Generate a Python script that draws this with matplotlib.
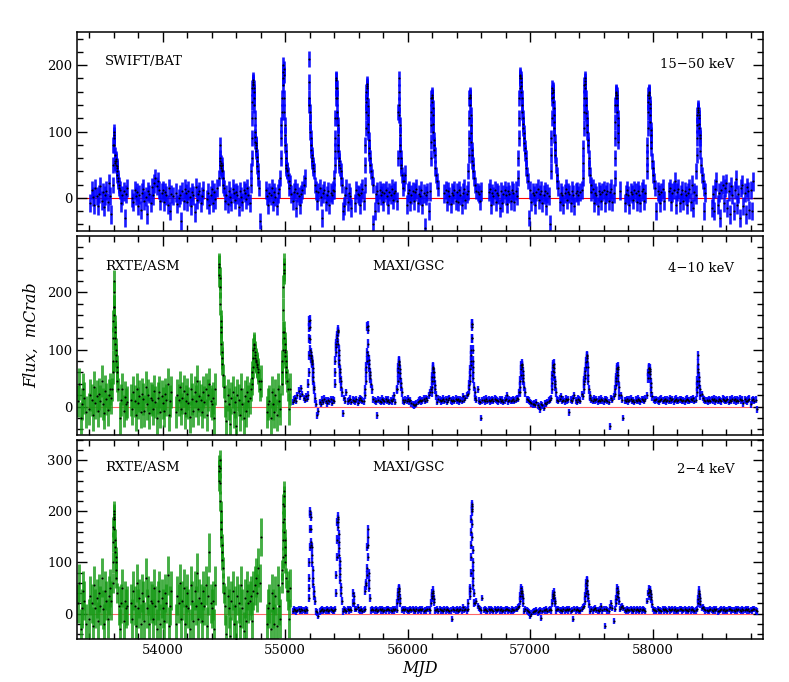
import numpy as np
import matplotlib
matplotlib.use("Agg")
import matplotlib.pyplot as plt
from matplotlib.ticker import MultipleLocator

# ---------------- data ----------------
STEP = 10
BAT_START, ASM_START, MAXI_START = 53400, 53310, 55060

bat_base = [
 5,-8,12,2,-10,15,3,-12,6,18,-4,9,-14,4,11,-6,22,3,-25,10,
 14,8,-5,20,-3,12,-8,4,10,-30,6,15,-2,-9,7,0,-6,12,3,9,
 -12,5,-18,8,14,-4,2,-25,10,6,-8,16,4,22,30,18,25,12,-5,8,
 12,-6,9,4,-10,15,-20,6,3,12,-4,8,-9,0,5,-35,10,-5,14,7,
 -6,11,2,-12,9,4,-22,16,-3,6,10,-8,3,12,-5,18,-2,8,-10,4,
 13,-7,9,-2,15,-11,6,3,-40,8,12,-4,5,-9,11,2,-6,14,7,-3,
 9,5,-14,10,2,-6,12,8,-2,15,4,-8,6,11,3,9,-5,7,10,2,
 -30,-15,5,-8,12,3,-10,8,4,15,-6,9,2,-12,7,14,10,-4,6,3,
 5,10,8,12,20,6,-5,9,14,-15,8,3,-10,6,12,20,30,-5,4,9,
 8,14,6,-8,3,11,-4,9,15,2,-30,7,12,-6,4,10,-10,8,5,12,
 6,-5,9,12,-8,6,10,-20,-12,4,15,-6,8,3,-15,10,5,-8,12,6,
 4,-10,8,14,-4,9,2,11,-6,7,12,5,-40,-20,6,10,-8,12,4,9,
 -6,8,12,3,-10,9,5,14,-3,8,11,-5,7,10,-12,9,4,25,35,-10,
 8,12,-6,5,10,-4,9,14,-8,6,3,12,-10,7,-45,4,9,-20,10,20,
 6,12,-8,9,4,14,-5,8,11,-3,7,12,-6,10,3,-9,8,5,12,-4,
 9,-6,12,4,-10,8,14,-3,6,11,-8,5,10,-12,7,3,-50,9,6,-5,
 10,4,-8,12,6,-5,9,14,-10,7,3,12,-6,8,5,-15,10,-8,6,12,
 4,-9,10,6,-4,12,8,-6,11,3,-8,9,14,-5,7,10,-50,-25,5,9,
 12,-6,8,4,-10,9,14,-3,6,11,-8,5,10,-12,7,3,-40,20,8,6,
 -5,-20,9,12,-6,8,4,-10,7,14,-3,9,6,-8,11,5,-12,8,10,4,
 -6,9,12,-4,8,5,-10,11,6,-3,9,14,-7,8,4,-12,10,6,-5,9,
 12,-8,6,10,-4,9,14,-6,7,3,-12,8,5,11,-25,20,10,-8,6,12,
 4,-10,9,6,-3,12,8,-6,11,5,-8,10,14,-4,7,9,-12,6,10,3,
 8,-5,12,-20,10,6,-8,9,14,-4,7,3,-12,10,15,-6,8,12,25,-10,
 9,14,-8,6,12,-5,10,4,-10,8,14,-6,20,-15,9,5,-8,30,12,6,
 -10,15,-20,8,12,-25,10,18,-15,6,-20,14,25,-10,8,-30,12,20,-8,15,
 22,-15,10,-25,18,5,-20,12,28,-10,6,-30,15,20,-12,8,-25,16,10,-18,
 12,-20,25,-8,15,-15,8,-25,20,10,-12,18,6,-20,15,-10,8,12,-5,10,
]
bat_bt = [53590,53593,53596,53598,53600,53602,53604,53607,53610,53613,53615,53618,53620,53623,53625,53628,53630,53633,53635,53640,53645,
          54462,54464,54466,54468,54470,54473,54475,54478,54480,54483,54485,54490,54495,54500,
          54720,54723,54725,54727,54728,54730,54732,54734,54736,54738,54740,54742,54744,54746,54748,54750,54752,54754,54756,54758,54760,54763,54765,54768,54770,54773,54775,54780,54785,54790,
          54960,54963,54966,54969,54972,54975,54978,54980,54983,54985,54987,54989,54991,54993,54995,54998,55000,55003,55005,55008,55010,55013,55016,55022,55028,55034,
          55190,55193,55196,55198,55200,55203,55205,55208,55210,55213,55215,55218,55220,55223,55226,55232,55240,
          55400,55402,55404,55406,55407,55409,55411,55413,55415,55417,55419,55421,55423,55425,55427,55429,55431,55434,55436,55439,55441,55446,55452,55458,55464,
          55648,55651,55654,55656,55658,55660,55662,55664,55666,55668,55670,55672,55674,55676,55678,55680,55682,55685,55688,55694,55700,55708,55716,
          55922,55924,55926,55928,55930,55932,55934,55936,55938,55940,55942,55945,55947,55952,55958,55965,
          56186,56188,56190,56192,56194,56196,56198,56200,56202,56204,56206,56208,56210,56213,56215,56218,56220,56226,56232,56240,56248,
          56496,56498,56500,56502,56504,56506,56508,56510,56512,56514,56516,56518,56520,56523,56525,56528,56530,56536,56542,56550,56560,
          56900,56903,56905,56908,56910,56913,56915,56917,56919,56921,56923,56926,56928,56931,56933,56936,56938,56941,56944,56947,56950,56953,56956,56959,56962,56968,56974,56980,56990,
          57168,57170,57172,57174,57176,57178,57180,57182,57184,57186,57188,57190,57192,57194,57196,57198,57200,57203,57205,57210,57216,57222,57230,
          57430,57432,57434,57436,57438,57440,57442,57444,57446,57448,57450,57453,57455,57458,57460,57463,57465,57468,57470,57476,57482,57488,57496,
          57688,57690,57692,57694,57696,57698,57700,57702,57704,57706,57708,57710,57712,57714,57716,57718,57720,
          57952,57954,57956,57958,57960,57962,57964,57966,57968,57970,57972,57974,57976,57978,57980,57983,57985,57988,57990,57995,58000,58006,58012,58020,
          58355,58358,58360,58362,58364,58366,58368,58370,58372,58374,58376,58378,58380,58383,58385,58390,58395,58400,58408,58416]
bat_bf = [20,50,80,90,100,95,80,65,55,52,50,58,55,48,45,40,35,30,25,15,20,
          30,55,80,60,50,48,45,52,50,42,40,30,20,15,
          20,40,60,90,120,145,165,172,175,178,170,165,160,150,140,120,100,92,85,82,80,75,70,62,55,48,40,30,15,-35,
          30,60,90,110,130,150,170,180,190,200,195,185,150,130,110,95,80,70,60,50,45,42,40,35,25,15,
          210,175,150,140,130,115,100,90,80,72,65,60,55,50,45,40,20,
          10,30,50,70,90,120,150,165,180,178,165,150,130,120,110,95,80,70,60,55,50,45,40,30,20,
          20,50,80,105,130,145,160,168,172,165,150,138,125,112,100,88,75,68,60,50,40,32,20,
          60,130,180,160,140,125,110,95,80,70,60,50,45,35,25,15,
          60,85,110,130,150,152,155,150,145,135,125,112,100,88,80,72,65,45,35,25,15,
          40,65,90,120,150,152,155,150,140,125,110,98,85,72,65,55,50,40,30,20,10,
          30,60,90,120,150,165,180,183,185,180,175,168,160,150,140,130,120,112,105,98,90,82,75,68,60,45,35,25,-30,
          40,65,90,120,150,158,165,162,160,152,145,135,125,115,105,95,85,72,65,50,35,25,15,
          30,52,75,105,130,150,170,176,180,172,165,150,140,128,120,110,100,88,80,60,45,35,20,
          30,60,90,115,140,150,155,158,160,155,150,140,130,120,110,98,85,
          40,60,80,105,130,145,155,158,160,155,150,142,135,125,115,102,95,85,75,55,45,35,25,15,
          40,65,90,110,125,130,135,133,130,125,120,112,105,95,90,70,50,35,25,15]
bat_gaps = [(53300,53405),(53715,53742),(54081,54109),(54334,54353),(54441,54458),
            (54800,54830),(55165,55185),(55546,55560),(56250,56290),(56605,56655),
            (57393,57407),(57733,57760),(58100,58127),(58440,58475),(58822,59100)]
bat_err, bat_burst_err = 14, 12

asm_soft_base = [  # 4-10 keV
 10,40,-20,5,30,15,-10,25,8,-5,20,12,-15,35,6,18,-8,22,10,45,
 5,-12,28,14,-6,20,30,15,8,-10,15,25,-5,10,-20,12,30,-8,16,5,
 8,-30,20,12,-5,25,10,-15,30,6,18,-10,22,14,-8,35,5,20,-12,15,
 12,-5,28,8,-20,15,25,-10,18,6,-8,22,12,40,-15,10,25,-5,18,8,
 -10,20,12,35,-5,15,28,-12,10,22,6,-18,30,14,-8,25,10,45,-5,18,
 12,-10,25,8,30,-15,20,40,10,5,15,-20,30,10,25,5,-10,20,15,10,
 10,-25,20,5,-30,15,25,-10,8,-35,20,12,-15,30,5,-20,18,-8,25,10,
 15,20,-10,25,30,40,20,50,35,45,30,15,-20,10,-10,5,10,-20,25,5,
 -10,20,-15,30,10,-5,25,15,20,35,10,25,-5,30,0,-20,10,5,0,0,
]
asm_mid_bt = [53585,53590,53592,53594,53596,53598,53600,53602,53604,53606,53608,53610,53612,53614,53616,53618,53620,53623,53625,53630,53638,
              54458,54460,54462,54464,54467,54470,54472,54474,54476,54479,54481,54484,54486,54492,54500,
              54720,54725,54728,54731,54734,54737,54740,54742,54745,54748,54750,54753,54755,54758,54760,54763,54766,54769,54772,54775,54778,54785,54792,
              54970,54974,54976,54978,54980,54982,54984,54986,54987,54988,54990,54992,54994,54996,54998,55001,55003,55006,55008,55014,55020]
asm_mid_bf = [30,60,80,120,150,175,220,200,175,160,140,130,120,110,100,90,80,70,60,45,30,
              230,245,250,225,210,180,150,140,130,110,95,85,75,55,35,
              30,40,50,60,70,85,100,108,110,102,95,90,85,82,80,78,75,72,70,65,60,45,30,
              40,60,80,100,130,170,210,235,250,240,130,120,110,100,95,88,80,70,60,45,30]
asm_low_base = [  # 2-4 keV
 20,60,-30,10,45,25,-20,80,12,-10,35,20,-25,55,10,30,-15,40,15,70,
 8,-20,45,25,-10,35,50,25,12,-15,20,40,-10,15,-30,20,50,-15,25,10,
 15,-40,35,20,-10,45,15,-25,60,10,30,-20,40,25,-15,70,10,35,-20,25,
 20,-10,50,15,-30,25,45,-20,30,10,-15,40,20,75,-25,15,45,-10,30,12,
 -20,35,20,60,-10,25,50,-20,15,40,10,-30,55,25,-15,45,15,80,-10,30,
 20,-15,45,15,55,-25,35,120,20,10,25,-30,55,20,45,10,-20,35,25,15,
 15,-40,35,10,-45,25,45,-20,15,-50,35,20,-25,55,10,-35,30,-15,45,20,
 25,35,-15,45,55,70,40,90,60,150,50,30,-30,15,-20,10,20,-30,40,10,
 -20,35,-25,55,15,-10,45,25,40,60,20,45,-10,50,5,-30,20,10,0,0,
]
asm_low_bt = [53590,53593,53595,53597,53598,53600,53601,53603,53604,53606,53608,53610,53612,53615,53617,53620,53622,53628,
              54458,54460,54462,54464,54466,54468,54470,54472,54474,54476,54478,54480,54482,54485,54488,54495,54502,
              54972,54975,54978,54981,54983,54985,54986,54988,54989,54991,54993,54995,54997,55000,55002,55008,55015]
asm_low_bf = [60,100,140,170,190,185,200,195,185,165,145,130,120,110,100,85,70,40,
              260,280,290,300,285,255,220,200,180,165,150,135,120,105,90,60,40,
              60,85,110,145,180,215,230,240,210,185,160,145,130,115,100,70,45]
asm_gaps = [(53372,53392),(53712,53730),(54080,54108),(54440,54455),(54805,54842),(55048,55200)]
asm_mid_err, asm_low_err, asm_burst_err = 28, 38, 20

maxi_mid_base = [  # 4-10 keV
 8,12,15,10,20,28,18,32,22,15,12,18,14,20,25,30,12,10,8,5,
 -15,-8,8,5,12,8,14,10,6,11,9,13,7,12,10,15,14,9,11,10,
 12,-12,15,10,25,9,11,14,8,12,10,9,13,7,11,15,12,10,9,20,
 10,12,9,14,8,11,13,10,9,-15,12,10,8,14,11,9,13,10,12,8,
 11,9,14,20,8,30,10,12,9,13,11,8,12,10,14,9,11,6,4,2,
 3,5,8,10,12,9,11,14,10,15,12,20,25,30,22,16,12,10,8,14,
 12,9,11,14,10,13,8,12,15,11,9,12,10,14,11,13,9,12,10,18,
 12,15,20,22,25,30,35,28,24,15,12,30,10,8,-20,11,12,9,14,10,
 12,9,11,13,10,14,12,11,9,13,10,12,8,11,14,20,9,12,10,11,
 13,10,12,15,14,25,-15,12,10,11,9,13,12,10,8,6,4,5,3,8,
 2,0,-5,4,2,-2,6,5,8,10,12,15,20,30,22,15,12,10,14,18,
 10,12,9,14,11,13,-10,12,10,15,20,11,8,14,12,10,22,18,25,30,
 30,25,20,15,12,10,14,11,13,9,12,10,14,11,9,13,12,10,8,-35,
 15,12,18,22,30,45,55,40,20,12,-20,11,10,13,9,12,14,10,11,8,
 12,10,14,11,9,13,12,10,14,20,60,50,22,18,15,12,11,13,10,9,
 12,14,10,11,13,9,12,10,15,11,13,9,12,14,10,11,13,12,10,11,
 9,12,14,11,10,13,12,15,10,12,20,25,30,40,22,15,12,10,11,9,
 12,10,13,11,14,9,12,10,13,11,9,14,12,10,11,13,8,12,10,14,
 11,13,9,12,10,14,11,12,6,13,10,9,12,14,4,11,13,10,12,-5,
]
maxi_mid_bt = [55185,55188,55190,55192,55194,55196,55198,55200,55202,55204,55206,55208,55210,55212,55214,55216,55218,55220,55222,55224,55226,55228,55230,55233,55235,55240,
               55405,55408,55410,55413,55415,55418,55420,55423,55425,55428,55430,55432,55434,55436,55438,55440,55442,55445,55447,55450,55452,55458,55465,
               55655,55658,55660,55663,55665,55668,55670,55672,55674,55676,55678,55680,55682,55685,55688,55691,55694,55700,55708,
               55915,55918,55920,55923,55925,55927,55929,55931,55933,55936,55938,55941,55944,55950,
               56195,56198,56200,56202,56204,56206,56208,56210,56212,56214,56216,56219,56222,56230,
               56500,56503,56506,56509,56512,56514,56516,56518,56520,56522,56523,56524,56526,56528,56529,56531,56532,56534,56536,56540,56546,
               56915,56918,56920,56923,56925,56928,56930,56933,56935,56938,56940,56943,56945,56950,56958,
               57175,57178,57180,57183,57185,57188,57190,57193,57195,57198,57200,57203,57206,57214,
               57435,57440,57442,57445,57448,57451,57454,57457,57460,57462,57464,57466,57468,57471,57473,57478,57485,
               57695,57698,57700,57703,57705,57708,57710,57712,57714,57716,57718,57720,57722,57728,
               57965,57967,57968,57970,57972,57974,57976,57978,57980,57983,57985,57990,57998,
               58360,58363,58364,58366,58368,58370,58372,58374,58376,58379,58382,58390]
maxi_mid_bf = [20,40,60,90,120,138,150,152,140,118,100,95,90,88,85,82,80,78,75,68,60,52,45,35,30,15,
               40,60,80,95,105,110,115,120,125,130,135,132,110,100,90,82,75,65,60,50,45,35,25,
               30,45,60,70,80,95,140,142,135,110,90,82,75,68,60,55,50,40,30,
               30,45,60,68,75,78,80,72,65,58,50,42,35,25,
               25,35,45,52,60,65,70,68,60,52,45,38,30,20,
               30,38,45,55,65,72,80,90,100,120,140,145,145,120,100,80,70,60,50,35,25,
               25,35,45,55,65,72,75,72,70,62,55,50,45,35,25,
               30,42,55,62,70,73,75,68,60,52,45,40,35,25,
               30,40,45,50,55,62,70,78,85,88,90,80,70,55,45,30,20,
               30,38,45,50,55,60,65,68,70,65,55,45,35,20,
               50,60,65,67,68,66,62,57,50,42,35,25,18,
               25,35,45,65,90,75,60,52,45,38,30,20]
maxi_low_base = [  # 2-4 keV
 5,8,6,4,7,9,5,8,6,7,5,9,6,8,10,12,7,5,6,4,
 2,-5,4,6,8,5,7,6,9,5,6,8,7,5,6,9,8,6,5,7,
 6,4,8,7,5,9,6,8,7,5,6,8,9,12,7,6,8,5,7,9,
 6,7,5,8,6,9,7,6,8,5,7,9,6,8,5,7,6,8,9,6,
 7,5,8,6,9,7,6,8,5,7,9,6,8,7,5,6,8,7,9,6,
 5,8,6,7,9,6,8,5,7,6,8,9,6,7,5,8,6,7,9,5,
 8,6,7,5,9,6,8,7,5,6,-10,8,7,6,9,5,7,8,6,12,
 7,9,6,8,5,7,10,12,15,20,25,15,10,8,6,30,7,8,6,5,
 8,6,9,7,5,8,6,7,9,6,8,5,7,6,8,9,6,7,5,8,
 6,7,9,8,12,15,10,7,6,5,8,6,4,2,-5,0,3,5,4,6,
 2,4,6,-8,5,7,6,8,5,7,9,6,8,7,5,6,8,9,7,6,
 5,8,6,7,9,6,8,5,7,-10,9,6,8,7,5,6,8,12,15,20,
 8,6,7,5,9,6,8,10,7,6,5,8,15,6,9,-25,8,6,5,12,
 20,10,-15,8,6,-10,8,9,12,15,10,7,5,8,6,7,9,6,5,8,
 6,8,7,5,9,6,8,7,5,25,40,30,20,10,8,6,7,5,9,6,
 7,5,8,6,9,7,5,8,6,7,9,6,8,5,7,6,8,9,6,7,
 8,6,7,5,9,6,8,7,5,6,8,9,7,6,10,12,8,6,7,5,
 6,8,7,5,9,6,8,4,5,7,9,6,8,5,7,6,8,9,6,7,
 7,5,8,6,9,7,5,8,6,7,9,6,8,5,7,6,8,9,6,4,
]
maxi_low_bt = [55190,55193,55195,55197,55199,55201,55203,55205,55207,55209,55211,55213,55215,55218,55220,55223,55226,55229,55232,55236,55240,
               55415,55418,55420,55422,55425,55427,55429,55431,55433,55435,55437,55439,55441,55444,55446,55449,55451,55454,55457,55464,
               55552,55556,55560,55565,
               55655,55660,55662,55665,55668,55670,55672,55674,55676,55678,55680,55683,55685,55690,
               55915,55918,55920,55923,55925,55927,55929,55932,55934,55940,
               56192,56196,56198,56201,56203,56206,56208,56211,56214,
               56495,56505,56510,56512,56514,56516,56518,56519,56520,56521,56522,56523,56525,56526,56528,56530,56531,56533,56534,56536,56538,56545,
               56915,56920,56922,56924,56926,56929,56931,56934,56937,56945,
               57180,57184,57186,57188,57190,57193,57196,57200,57204,
               57445,57450,57452,57455,57458,57460,57462,57465,57467,57470,57473,57480,
               57700,57704,57706,57709,57711,57713,57716,57719,57722,
               57968,57970,57972,57975,57977,57980,57982,57985,57988,57995,
               58368,58372,58374,58376,58378,58380,58383,58386,58390]
maxi_low_bf = [30,50,70,100,130,165,200,195,190,165,140,135,130,115,100,85,70,58,45,35,25,
               40,75,110,145,180,185,190,180,170,155,140,128,115,102,90,78,65,52,40,25,
               20,40,35,20,
               45,55,60,75,90,130,165,150,135,110,80,65,50,30,
               20,28,35,42,50,48,45,38,30,20,
               20,30,35,40,45,40,35,28,22,
               20,35,45,50,80,110,135,160,185,210,215,205,200,175,150,125,100,85,70,55,40,20,
               25,35,40,45,50,45,40,35,30,20,
               20,30,35,38,42,36,30,25,20,
               25,35,40,50,60,63,65,55,45,38,30,18,
               20,28,35,42,50,45,40,32,25,
               35,42,48,46,45,42,38,33,28,18,
               20,28,35,40,45,38,30,24,18]
maxi_gaps = [(58852, 59100)]
maxi_err, maxi_burst_err = 6, 8


def build(start, base, gaps, bt, bf, e_base, e_burst):
    t = start + STEP * np.arange(len(base), dtype=float)
    f = np.array(base, dtype=float)
    keep = np.ones(len(t), bool)
    for a, b in gaps:
        keep &= ~((t >= a) & (t <= b))
    bt = np.array(bt, float)
    bf = np.array(bf, float)
    splits = np.where(np.diff(bt) > 40)[0] + 1
    for grp in np.split(bt, splits):
        keep &= ~((t >= grp.min() - 3) & (t <= grp.max() + 3))
    tt = np.concatenate([t[keep], bt])
    ff = np.concatenate([f[keep], bf])
    ee = np.concatenate([np.full(keep.sum(), float(e_base)), np.full(len(bt), float(e_burst))])
    o = np.argsort(tt)
    return tt[o], ff[o], ee[o]


plt.rcParams['font.family'] = ['DejaVu Serif']
plt.rcParams['font.size'] = 9.5

fig, axes = plt.subplots(3, 1, sharex=True, figsize=(7.89, 6.82), dpi=100)
fig.subplots_adjust(left=0.0976, right=0.967, bottom=0.063, top=0.953, hspace=0.025)

BLUE = '#0000ff'
GREEN = '#169a16'


def draw(ax, t, f, e, color, alpha, lw):
    ax.errorbar(t, f, yerr=e, fmt='none', ecolor=color, elinewidth=lw,
                capsize=0, alpha=alpha, zorder=2)
    ax.plot(t, f, '.', color='black', ms=3.0, mew=0, zorder=3)


# panel 1 : BAT
ax = axes[0]
ax.axhline(0, color='red', lw=0.8, zorder=1)
t, f, e = build(BAT_START, bat_base, bat_gaps, bat_bt, bat_bf, bat_err, bat_burst_err)
draw(ax, t, f, e, BLUE, 0.9, 1.9)
ax.set_ylim(-50, 250)
ax.text(0.041, 0.85, 'SWIFT/BAT', transform=ax.transAxes, va='center', ha='left')
ax.text(0.958, 0.835, '15\u221250 keV', transform=ax.transAxes, va='center', ha='right')

# panel 2 : 4-10 keV
ax = axes[1]
ax.axhline(0, color='red', lw=0.8, zorder=1, alpha=0.6)
t, f, e = build(ASM_START, asm_soft_base, asm_gaps, asm_mid_bt, asm_mid_bf, asm_mid_err, asm_burst_err)
draw(ax, t, f, e, GREEN, 0.8, 2.1)
t, f, e = build(MAXI_START, maxi_mid_base, maxi_gaps, maxi_mid_bt, maxi_mid_bf, maxi_err, maxi_burst_err)
draw(ax, t, f, e, BLUE, 0.9, 1.7)
ax.set_ylim(-50, 299)
ax.text(0.041, 0.845, 'RXTE/ASM', transform=ax.transAxes, va='center', ha='left')
ax.text(0.43, 0.845, 'MAXI/GSC', transform=ax.transAxes, va='center', ha='left')
ax.text(0.958, 0.835, '4\u221210 keV', transform=ax.transAxes, va='center', ha='right')
ax.set_ylabel('Flux,  mCrab', style='italic', fontsize=11.5, labelpad=5)

# panel 3 : 2-4 keV
ax = axes[2]
ax.axhline(0, color='red', lw=0.8, zorder=1, alpha=0.6)
t, f, e = build(ASM_START, asm_low_base, asm_gaps, asm_low_bt, asm_low_bf, asm_low_err, asm_burst_err)
draw(ax, t, f, e, GREEN, 0.8, 2.1)
t, f, e = build(MAXI_START, maxi_low_base, maxi_gaps, maxi_low_bt, maxi_low_bf, maxi_err, maxi_burst_err)
draw(ax, t, f, e, BLUE, 0.9, 1.7)
ax.set_ylim(-50, 340)
ax.text(0.041, 0.86, 'RXTE/ASM', transform=ax.transAxes, va='center', ha='left')
ax.text(0.43, 0.86, 'MAXI/GSC', transform=ax.transAxes, va='center', ha='left')
ax.text(0.958, 0.85, '2\u22124 keV', transform=ax.transAxes, va='center', ha='right')
ax.set_xlabel('MJD', style='italic', fontsize=11.5, labelpad=2)

for ax in axes:
    ax.set_xlim(53300, 58900)
    ax.xaxis.set_major_locator(MultipleLocator(1000))
    ax.xaxis.set_minor_locator(MultipleLocator(200))
    ax.yaxis.set_major_locator(MultipleLocator(100))
    ax.yaxis.set_minor_locator(MultipleLocator(20))
    ax.tick_params(which='both', direction='in', top=True, right=True, width=1.0)
    ax.tick_params(which='major', length=7)
    ax.tick_params(which='minor', length=4)
    for s in ax.spines.values():
        s.set_linewidth(1.1)

fig.savefig('out.png', dpi=100)
